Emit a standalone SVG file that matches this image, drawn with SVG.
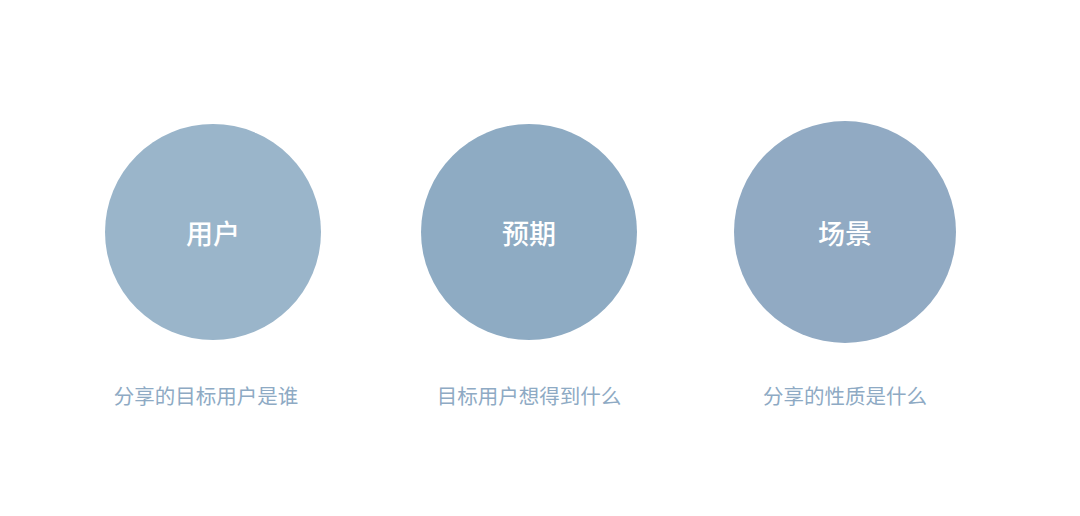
<svg xmlns="http://www.w3.org/2000/svg" width="1080" height="516" viewBox="0 0 1080 516">
<style>
.title{font-family:"Noto Sans CJK SC","Noto Sans",sans-serif;font-size:27px;font-weight:500;fill:#ffffff;text-anchor:middle;dominant-baseline:central}
.sub{font-family:"Noto Sans CJK SC","Noto Sans",sans-serif;font-size:20.5px;fill:#8eaac4;text-anchor:middle;dominant-baseline:central}
</style>
<rect width="1080" height="516" fill="#ffffff"/>
<g id="connectors"></g>
<g id="node-user">
<circle cx="213" cy="232" r="108" fill="#9ab5ca"/>
<text class="title" x="213" y="232">用户</text>
<text class="sub" x="206" y="395">分享的目标用户是谁</text>
</g>
<g id="node-expect">
<circle cx="529" cy="232" r="108" fill="#8eabc3"/>
<text class="title" x="529" y="232">预期</text>
<text class="sub" x="529" y="395">目标用户想得到什么</text>
</g>
<g id="node-scene">
<circle cx="845" cy="232" r="111" fill="#91aac3"/>
<text class="title" x="845" y="232">场景</text>
<text class="sub" x="845" y="395">分享的性质是什么</text>
</g>
</svg>
